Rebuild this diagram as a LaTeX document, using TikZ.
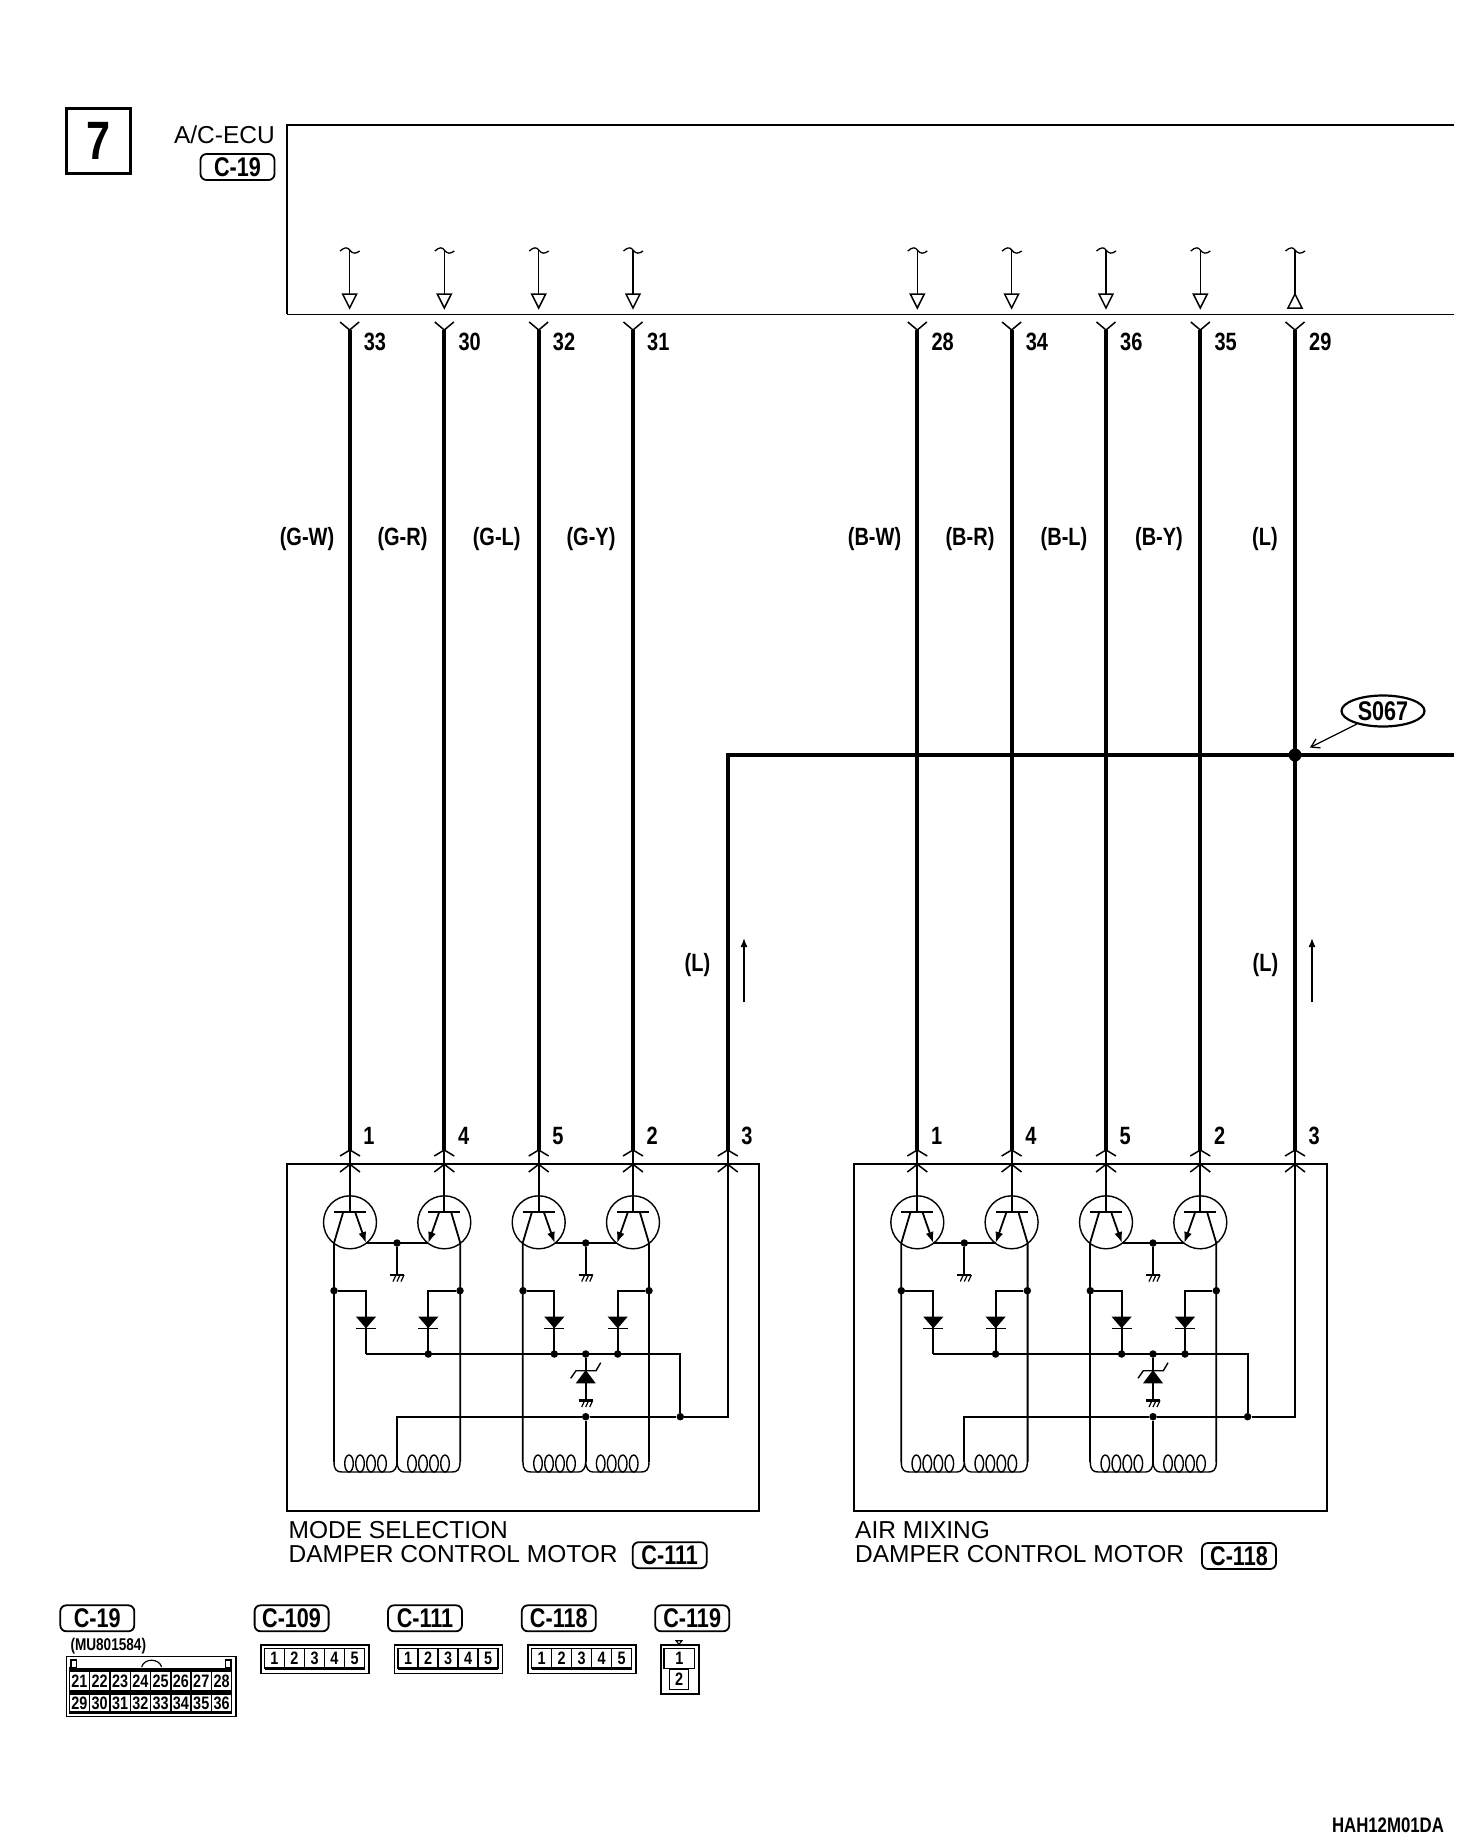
\documentclass[tikz,border=0pt]{standalone}
\usepackage{fontspec}
\setmainfont{Liberation Sans}
\newfontfamily\narrowfont[FakeStretch=0.8]{Liberation Sans}
\usetikzlibrary{
  arrows.meta,
  shapes.geometric,
}
\begin{document}
\begin{tikzpicture}[x=1pt, y=-1pt,
  wire/.style={line width=4pt},
  thinwire/.style={line width=1.8pt},
  dot/.style={circle, fill, inner sep=0pt, minimum size=7.5pt},
  trans/.style={draw, circle, line width=1.4pt, inner sep=0pt, minimum size=53pt},
  narrow/.style={inner sep=0pt, font=\narrowfont\bfseries\fontsize{#1}{#1}\selectfont},
  narrow/.default=25,
  pinlabel/.style={narrow, anchor=west},
  tag/.style={draw, narrow=27, line width=1.8pt, rounded corners=6pt, minimum width=74pt, minimum height=26pt},
  cell/.style={draw, narrow=18, line width=1.4pt, minimum width=20pt, minimum height=20pt},
  plain/.style={inner sep=0pt, align=left, font=\fontsize{24.5}{24.5}\selectfont},
  gnd/.pic={
    \draw[line width=2.2pt] (-7,0) -- (7,0);
    \draw[line width=1.2pt] (-1,0) -- (-4,6.5) (3,0) -- (0,6.5) (7,0) -- (4,6.5);
  },
]
\useasboundingbox (0,0) rectangle (1472,1844);

\node[draw, line width=3pt, minimum width=64pt, minimum height=65pt, inner sep=0pt] (step7) at (98.2,141.2)
  {\narrowfont\bfseries\fontsize{54}{54}\selectfont 7};
\node[plain, anchor=east] (ecu) at (275,135) {A/C-ECU};
\node[tag] (ecutag) at (237.5,167) {C-19};
\draw[line width=2pt] (1454,124.8) -- (287,124.8) -- (287,314.3);
\draw[line width=1.6pt] (287,314.3) -- (1454,314.3);

% ECU pins and harness
\foreach \wx/\ecupin/\motpin/\col/\lx/\tip in {
  349.6/33/1/(G-W)/307/0, 444.3/30/4/(G-R)/402.5/0, 538.7/32/5/(G-L)/496.7/0, 633/31/2/(G-Y)/591/0,
  917.3/28/1/(B-W)/874.5/0, 1011.6/34/4/(B-R)/970/0, 1106/36/5/(B-L)/1064/0, 1200.3/35/2/(B-Y)/1159/0,
  1295/29/3/(L)/1265/1} {
  \coordinate (in\ecupin) at (\wx,250);
  \coordinate (up\ecupin) at (\wx,330);
  \coordinate (lo\ecupin) at (\wx,1150);
  \draw[line width=1.3pt] (\wx-9.5,251) .. controls (\wx-5,247) and (\wx-2,247) .. (in\ecupin)
    .. controls (\wx+3,254) and (\wx+6,254) .. (\wx+10,251);
  \draw[line width=1.5pt] (in\ecupin) -- (\wx,294);
  \ifnum\tip=0
    \draw[line width=1.5pt] (\wx-7,294) -- (\wx+7,294) -- (\wx,308) -- cycle;
  \else
    \draw[line width=1.5pt] (\wx-7,308) -- (\wx+7,308) -- (\wx,294) -- cycle;
  \fi
  \draw[line width=1.5pt] (\wx-9.5,322) -- (up\ecupin) -- (\wx+9.5,322);
  \draw[wire] (up\ecupin) -- (lo\ecupin);
  \node[pinlabel] (ecu\ecupin) at (\wx+14,342) {\ecupin};
  \node[pinlabel] (pin\ecupin) at (\wx+13.5,1136) {\motpin};
  \node[narrow] (col\ecupin) at (\lx,539) {\col};
}

% shared feed of both motors
\coordinate (feedend) at (1454,755);
\coordinate (feedlo) at (727.7,1150);
\node[circle, fill, inner sep=0pt, minimum size=13pt] (split) at (1295,755) {};
\draw[wire] (feedlo) -- (727.7,755) -- (feedend);
\node[pinlabel] (pinfeed) at (741.2,1136) {3};
\node[draw, ellipse, narrow=27, line width=2.2pt, minimum width=83pt, minimum height=31pt] (s067) at (1383,711) {S067};
\draw[line width=1.3pt, -{Straight Barb[length=8pt,width=10pt]}, shorten >=10pt] (s067) -- (split);
\node[narrow] (lfeed) at (697.5,965) {(L)};
\node[narrow] (lair) at (1265.5,965) {(L)};
\coordinate (fa) at (744,1002);
\coordinate (fb) at (744,938);
\coordinate (fc) at (1312,1002);
\coordinate (fd) at (1312,938);
\draw[line width=1.4pt, -{Latex[length=9pt,width=7pt]}] (fa) -- (fb);
\draw[line width=1.4pt, -{Latex[length=9pt,width=7pt]}] (fc) -- (fd);

% the two motors
\foreach \mx/\mn in {0/mode, 567.3/air} {
\begin{scope}[xshift=\mx pt]
  \node[draw, line width=1.9pt, minimum width=472.6pt, minimum height=346.4pt, inner sep=0pt] (\mn) at (523,1337.5) {};
  \foreach \px in {350,444.3,538.7,633,727.7} {
    \draw[line width=1.5pt] (\px-10,1156) -- (\px,1150) -- (\px+10,1156);
    \draw[line width=1.5pt] (\px-10,1172) -- (\px,1164.3) -- (\px+10,1172);
  }
  \foreach \tx/\td/\tn in {350/1/a, 444.3/-1/b, 538.7/1/c, 633/-1/d} {
    \node[trans] (\mn\tn) at (\tx,1222.3) {};
    \draw[thinwire] (\tx,1150) -- (\tx,1211.7);
    \draw[thinwire] (\tx-16,1211.7) -- (\tx+16,1211.7);
    \draw[thinwire] (\tx-\td*6.7,1211.7) -- (\tx-\td*16,1243) -- (\tx-\td*16,1462);
    \draw[thinwire, -{Latex[length=11pt,width=8pt]}] (\tx+\td*5,1211.7) -- (\tx+\td*16,1243);
  }
  \foreach \ba/\bb/\bg/\bn in {366/428.3/397/a, 554.7/617/585.7/b} {
    \draw[thinwire] (\ba,1243) -- (\bb,1243);
    \node[dot] (\mn bus\bn) at (\bg,1243) {};
    \draw[thinwire] (\mn bus\bn) -- (\bg,1275);
    \pic at (\bg,1275) {gnd};
  }
  % diodes
  \foreach \dx/\lx/\dn/\ds in {366/334/a/0, 428.3/460/b/7.5, 554.3/523/c/7.5, 617.7/649/d/7.5} {
    \node[dot] (\mn leg\dn) at (\lx,1290.7) {};
    \node[dot, minimum size=\ds pt] (\mn dio\dn) at (\dx,1354) {};
    \draw[thinwire] (\mn leg\dn) -- (\dx,1290.7) -- (\dx,1354);
    \fill (\dx-10,1316.7) -- (\dx+10,1316.7) -- (\dx,1328.3) -- cycle;
    \draw[line width=1.2pt] (\dx-10,1328.3) -- (\dx+10,1328.3);
  }
  \node[dot] (\mn zen) at (585.7,1354) {};
  \node[dot] (\mn com) at (585.7,1416.7) {};
  \node[dot] (\mn out) at (680.3,1416.7) {};
  \draw[thinwire] (366,1354) -- (680.3,1354) -- (\mn out);
  \draw[thinwire] (397,1462) -- (397,1416.7) -- (\mn com) -- (\mn out) -- (727.7,1416.7) -- (727.7,1150);
  \draw[thinwire] (\mn zen) -- (585.7,1400);
  \pic at (585.7,1400.5) {gnd};
  \fill (575.7,1383.3) -- (595.7,1383.3) -- (585.7,1370) -- cycle;
  \draw[line width=1.4pt] (570.7,1378.3) -- (576,1370.7) -- (596,1370.7) -- (600.7,1362.7);
  \draw[thinwire] (\mn com) -- (585.7,1462);
  % coils
  \foreach \ca/\cb/\cc in {334/397/460, 523/585.7/649} {
    \draw[line width=1.4pt] (\ca,1462) .. controls (\ca,1470) and (\ca+3,1472) .. (\ca+8,1472) -- (\cb-7,1472)
      .. controls (\cb-3,1472) and (\cb,1468) .. (\cb,1462)
      .. controls (\cb,1468) and (\cb+3,1472) .. (\cb+7,1472) -- (\cc-8,1472)
      .. controls (\cc-3,1472) and (\cc,1470) .. (\cc,1462);
    \foreach \i in {0,...,3} {
      \draw[line width=1.4pt] (\ca+15+11*\i,1463.5) ellipse [x radius=4.3, y radius=8.5];
      \draw[line width=1.4pt] (\cb+15+11*\i,1463.5) ellipse [x radius=4.3, y radius=8.5];
    }
  }
\end{scope}
}

\node[plain, anchor=north west] (modename) at (288.5,1521) {MODE SELECTION\\DAMPER CONTROL MOTOR};
\node[plain, anchor=north west] (airname) at (855,1521) {AIR MIXING\\DAMPER CONTROL MOTOR};
\node[tag] (modetag) at (669.7,1555.2) {C-111};
\node[tag] (airtag) at (1239,1556) {C-118};

% connector faces
\node[tag] (t19) at (97.3,1618.3) {C-19};
\node[tag] (t109) at (291.6,1618.3) {C-109};
\node[tag] (t111) at (425,1618.3) {C-111};
\node[tag] (t118) at (558.8,1618.3) {C-118};
\node[tag] (t119) at (692.2,1618.3) {C-119};
\node[narrow=17] (partno) at (108.3,1646) {(MU801584)};

\node[draw, line width=1.4pt, minimum width=169.3pt, minimum height=60pt, inner sep=0pt] (face19) at (151.3,1686.7) {};
\foreach \n [count=\i from 0] in {21,...,28} {
  \node[cell, minimum width=20.3pt, minimum height=19pt] (p\n) at (79.45+20.3*\i,1681) {\n};
}
\foreach \n [count=\i from 0] in {29,...,36} {
  \node[cell, minimum width=20.3pt, minimum height=18pt] (p\n) at (79.45+20.3*\i,1703) {\n};
}
\draw[line width=3pt] (69.3,1669) -- (231.7,1669);
\draw[line width=2.5pt] (69.3,1692.3) -- (231.7,1692.3);
\draw[line width=2.5pt] (69.3,1712.5) -- (231.7,1712.5);
\draw[line width=1.4pt] (69.3,1667) -- (69.3,1712.5) (231.7,1667) -- (231.7,1712.5);
\draw[line width=1.2pt] (71,1667.3) rectangle (76.7,1660) (225.7,1667.3) rectangle (231,1660);
\draw[line width=1.2pt] (141.7,1667) .. controls (144,1658) and (159,1658) .. (161.7,1667);

\foreach \cx/\cn in {260.3/ca, 393.8/cb, 527.3/cc} {
  \node[draw, line width=1.4pt, anchor=north west, minimum width=108pt, minimum height=28.4pt, inner sep=0pt] (\cn) at (\cx,1644.3) {};
  \foreach \n in {1,...,5} {
    \node[cell] (\cn\n) at (\cx+4.2+10+20*\n-20,1658.3) {\n};
  }
  \draw[line width=2.5pt] (\cx+4.2,1668.5) -- (\cx+104.2,1668.5);
}

\node[draw, line width=1.6pt, anchor=north west, minimum width=37.7pt, minimum height=49pt, inner sep=0pt] (c119) at (660.3,1644.3) {};
\node[cell, minimum width=30.7pt] (q1) at (679.3,1658.7) {1};
\node[cell, minimum width=19pt] (q2) at (679.2,1679.2) {2};
\draw[line width=1.1pt] (676,1640.7) -- (682,1640.7) -- (679,1644.3) -- cycle;

\node[narrow=21] (code) at (1388,1825.5) {HAH12M01DA};
\end{tikzpicture}
\end{document}
